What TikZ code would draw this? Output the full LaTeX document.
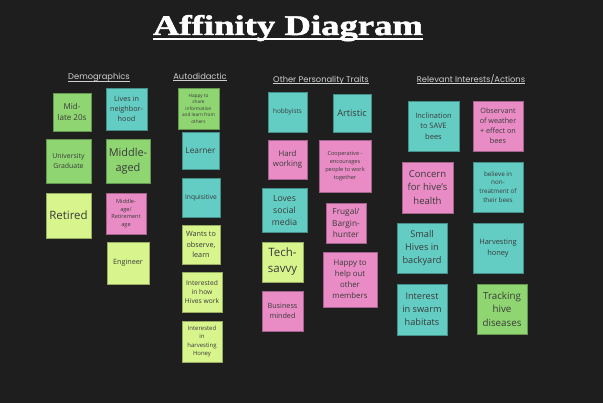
\documentclass[tikz,border=0pt]{standalone}
\usepackage{fontspec}
\setmainfont{Open Sans}
\newfontfamily\titlefont{Liberation Serif}[BoldFeatures={FakeBold=1.6}]
\newfontfamily\headfont{Poppins}
\definecolor{boardbg}{HTML}{1E1E1E}
\definecolor{noteTeal}{HTML}{63CDC4}
\definecolor{noteGreen}{HTML}{8FD672}
\definecolor{noteLime}{HTML}{D8F48C}
\definecolor{notePink}{HTML}{E98CC5}
\definecolor{noteInk}{HTML}{3A3A3A}
\definecolor{headInk}{HTML}{CFCFCF}
% sticky-note text: size scaled up slightly, leading about 1.4
\newcommand\fsz[1]{\fontsize{\dimexpr #1pt*115/100\relax}{\dimexpr #1pt*160/100\relax}\selectfont}
\tikzset{
  note/.style={rectangle, inner sep=0pt, align=center, text=noteInk,
    line width=0.6pt},
  teal/.style={note, fill=noteTeal, draw=noteTeal!70!black},
  green/.style={note, fill=noteGreen, draw=noteGreen!70!black},
  lime/.style={note, fill=noteLime, draw=noteLime!70!black},
  pink/.style={note, fill=notePink, draw=notePink!70!black},
  sz/.style 2 args={minimum width=#1pt, minimum height=#2pt},
  heading/.style={inner sep=0pt, anchor=base, text=headInk,
    font=\headfont\fontsize{8.3pt}{10pt}\selectfont},
  headline/.style={draw=headInk, line width=0.5pt},
}
\begin{document}
\begin{tikzpicture}[x=1pt, y=-1pt]
  \fill[boardbg] (0,0) rectangle (603,403);
  \useasboundingbox (0,0) rectangle (603,403);

  % title
  \node[inner sep=0pt, anchor=base, text=white] (title) at (288,35)
    {\resizebox{270pt}{20pt}{\titlefont\bfseries Affinity Diagram}};
  \draw[white, line width=1.8pt] (153,38.7) -- (423,38.7);

  % column headings
  \node[heading] (hDemo) at (99,80) {Demographics};
  \node[heading] (hAuto) at (200,79.5) {Autodidactic};
  \node[heading] (hOther) at (321,82.5) {Other Personality Traits};
  \node[heading] (hRel) at (471,82.5) {Relevant Interests/Actions};
  \foreach \h in {hDemo,hAuto,hOther,hRel}
    \draw[headline] ([yshift=-1pt]\h.base west) -- ([yshift=-1pt]\h.base east);

  % Demographics
  \node[green, sz={38}{38}, font=\fsz{7}] (d1) at (72,112) {Mid-\\late 20s};
  \node[teal, sz={41}{42}, font=\fsz{6.3}] (d2) at (126.5,109) {Lives in\\neighbor-\\hood};
  \node[green, sz={45}{44}, font=\fsz{6}] (d3) at (68.5,161) {University\\Graduate};
  \node[green, sz={44}{44}, font=\fsz{9.5}] (d4) at (128,161) {Middle-\\aged};
  \node[lime, sz={45}{45}, font=\fsz{10}] (d5) at (68.5,215.5) {Retired};
  \node[pink, sz={40}{41}, font=\fsz{4.9}] (d6) at (126,213.5) {Middle-\\age/\\Retirement\\age};
  \node[lime, sz={42}{42}, font=\fsz{6.3}] (d7) at (128,263) {Engineer};

  % Autodidactic
  \node[green, sz={41}{41}, font=\fsz{4.1}] (a1) at (198.5,108.5) {Happy to\\share\\information\\and learn from\\others};
  \node[teal, sz={37}{37}, font=\fsz{7.2}] (a2) at (200.5,150.5) {Learner};
  \node[teal, sz={38}{39}, font=\fsz{5.8}] (a3) at (201,197.5) {Inquisitive};
  \node[lime, sz={38}{39}, font=\fsz{6.3}] (a4) at (201,244.5) {Wants to\\observe,\\learn};
  \node[lime, sz={40}{40}, font=\fsz{5.8}] (a5) at (202,292) {Interested\\in how\\Hives work};
  \node[lime, sz={40}{41}, font=\fsz{5.2}] (a6) at (202,341.5) {Interested\\in\\harvesting\\Honey};

  % Other Personality Traits
  \node[teal, sz={39}{40}, font=\fsz{5.6}] (o1) at (287.5,112) {hobbyists};
  \node[teal, sz={38}{38}, font=\fsz{8}] (o2) at (352,113) {Artistic};
  \node[pink, sz={39}{39}, font=\fsz{6.8}] (o3) at (287.5,159.5) {Hard\\working};
  \node[pink, sz={52}{52}, font=\fsz{4.9}] (o4) at (345,166) {Cooperative -\\encourages\\people to work\\together};
  \node[teal, sz={45}{44}, font=\fsz{7.5}] (o5) at (284.5,210) {Loves\\social\\media};
  \node[pink, sz={40}{40}, font=\fsz{7.2}] (o6) at (346,223) {Frugal/\\Bargin-\\hunter};
  \node[lime, sz={41}{40}, font=\fsz{10}] (o7) at (282.5,262) {Tech-\\savvy};
  \node[pink, sz={54}{55}, font=\fsz{6.8}] (o8) at (350,279.5) {Happy to\\help out\\other\\members};
  \node[pink, sz={41}{40}, font=\fsz{6.3}] (o9) at (282.5,311) {Business\\minded};

  % Relevant Interests/Actions
  \node[teal, sz={51}{50}, font=\fsz{6.5}] (r1) at (433.5,126) {Inclination\\to SAVE\\bees};
  \node[pink, sz={50}{50}, font=\fsz{6.3}] (r2) at (498,126) {Observant\\of weather\\+ effect on\\bees};
  \node[pink, sz={51}{51}, font=\fsz{8.3}] (r3) at (427.5,187.5) {Concern\\for hive's\\health};
  \node[teal, sz={50}{50}, font=\fsz{5.5}] (r4) at (498,187) {believe in\\non-\\treatment of\\their bees};
  \node[teal, sz={50}{50}, font=\fsz{8}] (r5) at (422,248) {Small\\Hives in\\backyard};
  \node[teal, sz={50}{50}, font=\fsz{6.5}] (r6) at (498,248) {Harvesting\\honey};
  \node[teal, sz={50}{51}, font=\fsz{8}] (r7) at (422,309.5) {Interest\\in swarm\\habitats};
  \node[green, sz={50}{50}, font=\fsz{8.5}] (r8) at (502,309) {Tracking\\hive\\diseases};
\end{tikzpicture}
\end{document}
